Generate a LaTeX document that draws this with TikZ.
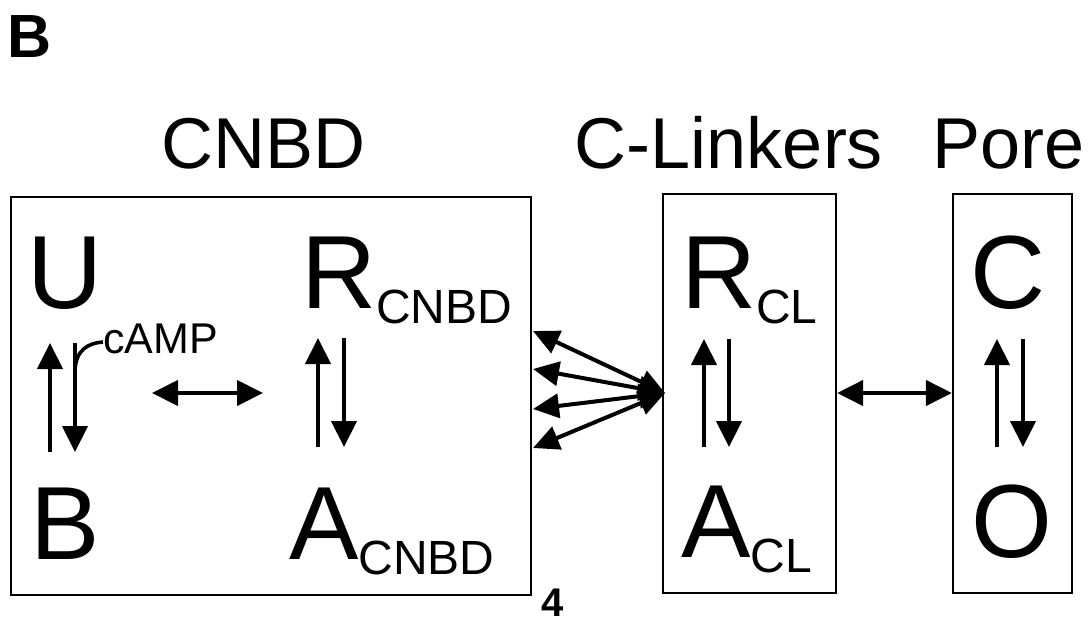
\documentclass[tikz,border=0pt]{standalone}
\usepackage{fontspec}
\setmainfont{Liberation Sans}
\usetikzlibrary{arrows.meta}
\newcommand{\bigst}[2]{{\fontsize{104}{104}\selectfont #1}\raisebox{-15pt}{\fontsize{48}{48}\selectfont #2}}
\tikzset{
  lbl/.style={inner sep=0pt, outer sep=0pt},
  title/.style={lbl, anchor=base, font=\fontsize{72}{72}\selectfont},
  state/.style={lbl, anchor=base, font=\fontsize{104}{104}\selectfont},
  statesub/.style={lbl, anchor=base west},
  boxnode/.style={draw=black, line width=2.2pt, rectangle, inner sep=0pt, minimum height=399pt},
  arr/.style={line width=4.2pt, -{Triangle[width=25pt,length=26pt]}},
  darr/.style={line width=4.2pt, {Triangle[width=25pt,length=26pt]}-{Triangle[width=25pt,length=26pt]}},
  farr/.style={line width=4pt, {Triangle[width=24pt,length=26pt]}-{Triangle[width=24pt,length=26pt]}},
}
\begin{document}
\begin{tikzpicture}[x=1pt,y=-1pt]
\useasboundingbox[fill=white] (0,0) rectangle (1088,625);

% panel letter
\node[lbl, anchor=base, font=\fontsize{61}{61}\selectfont\bfseries] (panel) at (30,57) {B};

% titles
\node[title] (tcnbd) at (263.5,168) {CNBD};
\node[title] (tcl) at (729,168) {C-Linkers};
\node[title] (tpore) at (1008.5,168) {Pore};

% boxes
\node[boxnode, minimum width=520pt, minimum height=398pt] (b1) at (271,396) {};
\node[boxnode, minimum width=173pt] (b2) at (749.5,393.5) {};
\node[boxnode, minimum width=119pt] (b3) at (1012.5,393.5) {};

% states
\node[state] (U) at (65.5,308) {U};
\node[state] (Bs) at (65,559) {B};
\node[statesub] (Rc) at (301,308) {\bigst{R}{CNBD}};
\node[statesub] (Ac) at (289,559) {\bigst{A}{CNBD}};
\node[statesub] (Rl) at (681,308) {\bigst{R}{CL}};
\node[statesub] (Al) at (681,557) {\bigst{A}{CL}};
\node[state] (C) at (1008.5,308) {C};
\node[state] (O) at (1011.5,557) {O};

% cAMP
\node[lbl, anchor=base west, font=\fontsize{43}{43}\selectfont] (camp) at (103,353) {cAMP};

% coordinates
\coordinate (ua) at (50,452);  \coordinate (ub) at (50,343);
\coordinate (da) at (75,343);  \coordinate (db) at (75,452);
\coordinate (ra) at (318,447); \coordinate (rb) at (318,338);
\coordinate (sa) at (344,338); \coordinate (sb) at (344,447);
\coordinate (la) at (704,447); \coordinate (lb) at (704,339);
\coordinate (ma) at (729,339); \coordinate (mb) at (729,447);
\coordinate (pa) at (997,447); \coordinate (pb) at (997,339);
\coordinate (qa) at (1023,339);\coordinate (qb) at (1023,447);
\coordinate (ha) at (152,393); \coordinate (hb) at (263,393);
\coordinate (fc) at (665,393);
\coordinate (f1) at (533,331); \coordinate (f2) at (533,369);
\coordinate (f3) at (533,409); \coordinate (f4) at (533,448);
\coordinate (cs) at (75,370);  \coordinate (ce) at (103,342);

% equilibrium arrows
\draw[arr] (ua) -- (ub);
\draw[arr] (da) -- (db);
\draw[arr] (ra) -- (rb);
\draw[arr] (sa) -- (sb);
\draw[arr] (la) -- (lb);
\draw[arr] (ma) -- (mb);
\draw[arr] (pa) -- (pb);
\draw[arr] (qa) -- (qb);

% cAMP hook
\draw[line width=3.6pt] (cs) .. controls (76,350) and (88,343) .. (ce);

% coupling arrows
\draw[darr] (ha) -- (hb);
\draw[darr] (b2.east |- fc) -- (b3.west |- fc);
\foreach \f in {f1,f2,f3,f4} { \draw[farr] (\f) -- (fc); }

% footer number
\node[lbl, anchor=base, font=\fontsize{40}{40}\selectfont\bfseries] (num) at (552.5,616) {4};
\end{tikzpicture}
\end{document}
